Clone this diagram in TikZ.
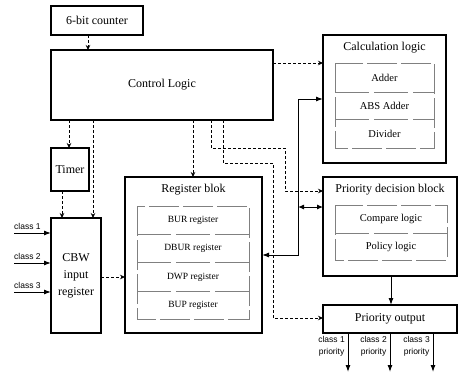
\documentclass[tikz,border=0pt]{standalone}
\usepackage{fontspec}
\setmainfont{Liberation Serif}
\newfontfamily\labelsans{Liberation Sans}
\usetikzlibrary{arrows.meta,calc}
\begin{document}
\begin{tikzpicture}[x=1pt,y=-1pt,
  box/.style={draw, line width=1.7pt, anchor=north west, inner sep=0pt, outer sep=0pt,
    font=\fontsize{12}{17}\selectfont, align=center},
  title/.style={font=\fontsize{12}{14}\selectfont, inner sep=0pt},
  reglbl/.style={font=\fontsize{9.5}{11}\selectfont, inner sep=0pt},
  inlbl/.style={font=\fontsize{10.5}{12}\selectfont, inner sep=0pt},
  inner/.style={draw=black!50, line width=0.5pt, dash pattern=on 30pt off 4pt},
  sep/.style={draw=black!50, line width=0.5pt, dash pattern=on 34pt off 5pt},
  dline/.style={line width=0.8pt, dash pattern=on 3pt off 2pt, -{Stealth[length=5pt,width=4.5pt]}},
  sline/.style={line width=1pt, -{Latex[length=7pt,width=5pt]}},
  cls/.style={font=\labelsans\fontsize{8.5}{12}\selectfont, inner sep=0pt, align=center}]
\useasboundingbox (0,0) rectangle (462,376);
% boxes
\node[box, minimum width=92pt, minimum height=29pt] (counter) at (51,6) {6-bit counter};
\node[box, minimum width=222pt, minimum height=70pt] (ctrl) at (51,50) {Control Logic};
\node[box, minimum width=38pt, minimum height=43pt] (timer) at (51,148) {Timer};
\node[box, minimum width=50pt, minimum height=115pt] (cbw) at (51,218) {CBW\\input\\register};
\node[box, minimum width=137pt, minimum height=156pt] (reg) at (125,177) {};
\node[box, minimum width=123pt, minimum height=128pt] (calc) at (323,35) {};
\node[box, minimum width=134pt, minimum height=99pt] (prio) at (323,177) {};
\node[box, minimum width=134pt, minimum height=28pt] (out) at (323,305) {Priority output};
% register blok contents
\node[title] (regt) at (193.5,190) {Register blok};
\draw[inner] (137,206) rectangle (249,319);
\draw[sep] (137,234) -- (249,234);
\draw[sep] (137,262) -- (249,262);
\draw[sep] (137,291) -- (249,291);
\node[reglbl] (bur) at (193,220) {BUR register};
\node[reglbl] (dbur) at (193,248) {DBUR register};
\node[reglbl] (dwp) at (193,277) {DWP register};
\node[reglbl] (bup) at (193,305) {BUP register};
% calculation logic contents
\node[title] (calct) at (384.5,48) {Calculation logic};
\draw[inner] (335,63) rectangle (434,148);
\draw[sep] (335,92) -- (434,92);
\draw[sep] (335,119) -- (434,119);
\node[inlbl] (adder) at (384.5,78) {Adder};
\node[inlbl] (abs) at (384.5,106) {ABS Adder};
\node[inlbl] (div) at (384.5,134) {Divider};
% priority decision contents
\node[title] (priot) at (390,190) {Priority decision block};
\draw[inner] (335,205) rectangle (447,260);
\draw[sep] (335,233) -- (447,233);
\node[inlbl] (cmp) at (391,219) {Compare logic};
\node[inlbl] (pol) at (391,247) {Policy logic};
% dashed control connectors
\draw[dline] ($(counter.south west)+(37,0)$) -- ($(ctrl.north west)+(37,0)$);
\draw[dline] ($(ctrl.south west)+(18,0)$) -- ($(timer.north west)+(18,0)$);
\draw[dline] ($(ctrl.south west)+(42,0)$) -- ($(cbw.north west)+(42,0)$);
\draw[dline] ($(timer.south west)+(11,0)$) -- ($(cbw.north west)+(11,0)$);
\draw[dline] ($(ctrl.south west)+(142,0)$) -- ($(reg.north west)+(68,0)$);
\draw[dline] ($(ctrl.north east)+(0,13)$) -- ($(calc.north west)+(0,28)$);
\draw[dline] ($(ctrl.south west)+(160,0)$) -- ++(0,28) -- ++(74,0) |- ($(prio.north west)+(0,14)$);
\draw[dline] ($(ctrl.south west)+(172,0)$) -- ++(0,43) -- ++(50,0) |- ($(out.north west)+(0,13)$);
\draw[dline] ($(cbw.north east)+(0,59)$) -- ($(reg.north west)+(0,100)$);
% solid data connectors
\draw[line width=1pt, {Latex[length=7pt,width=5pt]}-{Latex[length=7pt,width=5pt]}]
  ($(reg.north east)+(0,78)$) -- ++(36,0) |- ($(calc.north west)+(0,64)$);
\draw[line width=1pt, {Latex[length=6pt,width=5pt]}-{Latex[length=6pt,width=5pt]}]
  ($(prio.north west)+(-25,30)$) -- ($(prio.north west)+(0,30)$);
\draw[sline] ($(prio.south west)+(68,0)$) -- ($(out.north west)+(68,0)$);
% inputs
\coordinate (i1) at ($(cbw.north west)+(-37,15)$);
\coordinate (i2) at ($(cbw.north west)+(-37,45)$);
\coordinate (i3) at ($(cbw.north west)+(-37,74)$);
\draw[sline] (i1) -- (i1 -| cbw.west);
\draw[sline] (i2) -- (i2 -| cbw.west);
\draw[sline] (i3) -- (i3 -| cbw.west);
\node[cls, anchor=south west] (c1) at ($(i1)+(0,-3)$) {class 1};
\node[cls, anchor=south west] (c2) at ($(i2)+(0,-3)$) {class 2};
\node[cls, anchor=south west] (c3) at ($(i3)+(0,-3)$) {class 3};
% outputs
\coordinate (o1) at ($(out.south west)+(25,39)$);
\coordinate (o2) at ($(out.south west)+(67,39)$);
\coordinate (o3) at ($(out.south west)+(110,39)$);
\draw[sline] (o1 |- out.south) -- (o1);
\draw[sline] (o2 |- out.south) -- (o2);
\draw[sline] (o3 |- out.south) -- (o3);
\node[cls, anchor=north east] (p1) at ($(o1 |- out.south)+(-3,3)$) {class 1\\priority};
\node[cls, anchor=north east] (p2) at ($(o2 |- out.south)+(-3,3)$) {class 2\\priority};
\node[cls, anchor=north east] (p3) at ($(o3 |- out.south)+(-3,3)$) {class 3\\priority};
\end{tikzpicture}
\end{document}
